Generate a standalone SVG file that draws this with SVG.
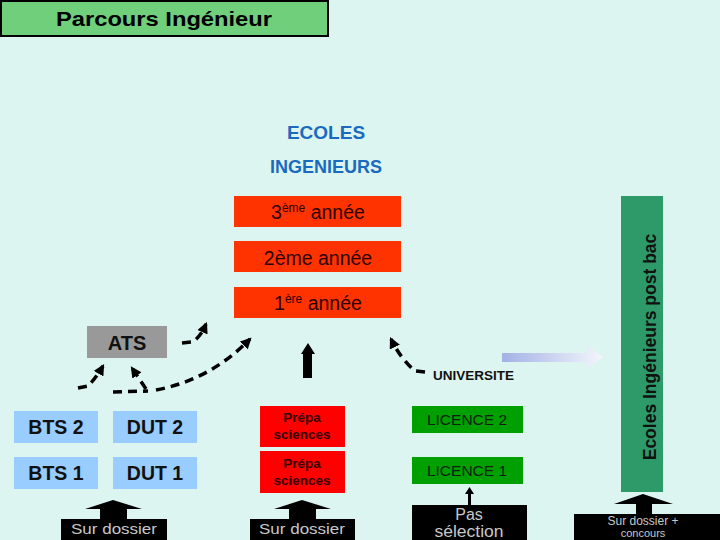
<svg xmlns="http://www.w3.org/2000/svg" width="720" height="540" viewBox="0 0 720 540">
<defs>
<style>
text{font-family:"Liberation Sans",Arial,sans-serif}
.red{fill:#ff3300}
.rt{font-size:19.5px;fill:#2a0000}
.blue{fill:#99ccff}
.bt{font-size:19.5px;font-weight:bold;fill:#111}
.prepa{fill:#ff0000}
.pt{font-size:13.5px;font-weight:bold;fill:#330000}
.lic{fill:#00a000}
.lt{font-size:15.5px;fill:#102010}
.blk{fill:#000}
.gt{fill:#c8c8c8}
.dash{fill:none;stroke:#000;stroke-width:3.5;stroke-dasharray:9 6}
</style>
<marker id="ah" viewBox="0 0 10 10" refX="8" refY="5" markerWidth="3.2" markerHeight="3.2" orient="auto"><path d="M0,0 L10,5 L0,10 z" fill="#000"/></marker>
<linearGradient id="grad" x1="0" y1="0" x2="1" y2="0"><stop offset="0" stop-color="#a3b1e6"/><stop offset="1" stop-color="#f4f6fb"/></linearGradient>
</defs>
<rect width="720" height="540" fill="#dcf5f0"/>
<g id="title"><rect x="1" y="1" width="327" height="35" fill="#6fcf7a" stroke="#000" stroke-width="2"/><text x="164" y="26" font-size="21" font-weight="bold" text-anchor="middle" fill="#000" textLength="216" lengthAdjust="spacingAndGlyphs">Parcours Ingénieur</text></g>
<g id="ecoles"><text x="326" y="139" font-size="19" font-weight="bold" fill="#1a6abf" text-anchor="middle">ECOLES</text><text x="326" y="173" font-size="18" font-weight="bold" fill="#1a6abf" text-anchor="middle">INGENIEURS</text></g>
<g id="annee3"><rect class="red" x="234" y="196" width="167" height="31"/><text class="rt" x="318" y="219" text-anchor="middle">3<tspan font-size="12" dy="-7">ème</tspan><tspan dy="7"> année</tspan></text></g>
<g id="annee2"><rect class="red" x="234" y="241" width="167" height="31"/><text class="rt" x="318" y="265" text-anchor="middle">2ème année</text></g>
<g id="annee1"><rect class="red" x="234" y="287" width="167" height="31"/><text class="rt" x="318" y="310" text-anchor="middle">1<tspan font-size="12" dy="-7">ère</tspan><tspan dy="7"> année</tspan></text></g>
<g id="ats"><rect x="87" y="326" width="80" height="32" fill="#999999"/><text x="127" y="350" font-size="20" font-weight="bold" fill="#111" text-anchor="middle">ATS</text></g>
<g id="universite"><text x="433" y="380" font-size="13.5" font-weight="bold" fill="#111">UNIVERSITE</text></g>
<g id="postbac"><rect x="621" y="196" width="42" height="296" fill="#2e9a6a"/><text transform="translate(656,347) rotate(-90)" font-size="17.5" font-weight="bold" fill="#111" text-anchor="middle">Ecoles Ingénieurs post bac</text></g>
<g id="bts2"><rect class="blue" x="14" y="411" width="84" height="32"/><text class="bt" x="56" y="434" text-anchor="middle">BTS 2</text></g>
<g id="dut2"><rect class="blue" x="113" y="411" width="84" height="32"/><text class="bt" x="155" y="434" text-anchor="middle">DUT 2</text></g>
<g id="bts1"><rect class="blue" x="14" y="457" width="84" height="32"/><text class="bt" x="56" y="480" text-anchor="middle">BTS 1</text></g>
<g id="dut1"><rect class="blue" x="113" y="457" width="84" height="32"/><text class="bt" x="155" y="480" text-anchor="middle">DUT 1</text></g>
<g id="prepa2"><rect class="prepa" x="260" y="406" width="85" height="41"/><text class="pt" x="302" y="422" text-anchor="middle">Prépa</text><text class="pt" x="302" y="439" text-anchor="middle">sciences</text></g>
<g id="prepa1"><rect class="prepa" x="260" y="451" width="85" height="42"/><text class="pt" x="302" y="468" text-anchor="middle">Prépa</text><text class="pt" x="302" y="485" text-anchor="middle">sciences</text></g>
<g id="licence2"><rect class="lic" x="412" y="406" width="111" height="27"/><text class="lt" x="467" y="425" text-anchor="middle">LICENCE 2</text></g>
<g id="licence1"><rect class="lic" x="412" y="457" width="111" height="27"/><text class="lt" x="467" y="476" text-anchor="middle">LICENCE 1</text></g>
<g id="surdossier1"><rect class="blk" x="61" y="519" width="106" height="21"/><text class="gt" x="114" y="534" font-size="15" text-anchor="middle" textLength="86" lengthAdjust="spacingAndGlyphs">Sur dossier</text></g>
<g id="surdossier2"><rect class="blk" x="250" y="519" width="105" height="21"/><text class="gt" x="302" y="534" font-size="15" text-anchor="middle" textLength="86" lengthAdjust="spacingAndGlyphs">Sur dossier</text></g>
<g id="passelection"><rect class="blk" x="412" y="505" width="115" height="35"/><text class="gt" x="469" y="520" font-size="16" text-anchor="middle">Pas</text><text class="gt" x="469" y="537" font-size="16" text-anchor="middle" textLength="69" lengthAdjust="spacingAndGlyphs">sélection</text></g>
<g id="concours"><rect class="blk" x="574" y="514" width="146" height="26"/><text class="gt" x="643" y="525" font-size="12" text-anchor="middle">Sur dossier +</text><text class="gt" x="643" y="537" font-size="11" text-anchor="middle">concours</text></g>
<g id="connectors">
<path class="dash" d="M182,343 L192,342 Q200,338 206,324" marker-end="url(#ah)"/>
<path class="dash" d="M78,388 L88,386 Q96,378 103,366" marker-end="url(#ah)"/>
<path class="dash" d="M113,392 L148,391"/>
<path class="dash" d="M146,389 L132,368" marker-end="url(#ah)"/>
<path class="dash" d="M156,390 Q210,380 250,339" marker-end="url(#ah)"/>
<path class="dash" d="M425,372 L415,371 Q400,358 391,339" marker-end="url(#ah)"/>
<path d="M502,353 H588 V346 L603,357 L588,368 V362 H502 Z" fill="url(#grad)"/>
<path d="M303,378 V354 H301 L308,343 L315,354 H312 V378 Z" fill="#000"/>
<path d="M100,519 V509 H85 L113,500 L142,509 H127 V519 Z" fill="#000"/>
<path d="M289,519 V509 H274 L302,500 L331,509 H316 V519 Z" fill="#000"/>
<path d="M468,505 V494 H465 L469.5,487 L474,494 H471 V505 Z" fill="#000"/>
<path d="M636,514 V504 H614 L643,494 L673,504 H652 V514 Z" fill="#000"/>
</g>
</svg>
